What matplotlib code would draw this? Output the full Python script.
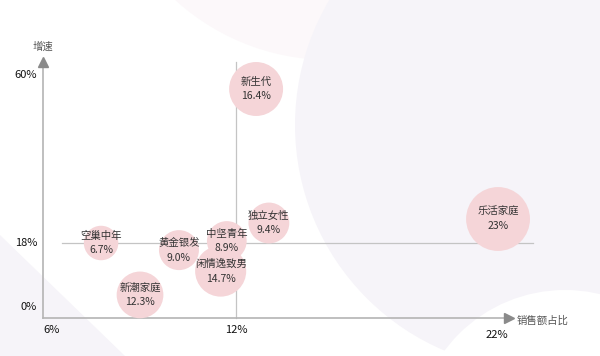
import numpy as np
import matplotlib
matplotlib.use("Agg")
import matplotlib.pyplot as plt
from matplotlib.patches import Circle, Polygon

plt.rcParams['font.family'] = ['Noto Sans CJK SC', 'DejaVu Sans']

# bubble data: name, sales share (%), growth (%), bubble value (%)
names = ['新生代', '空巢中年', '黄金银发', '中坚青年', '闲情逸致男', '独立女性', '新潮家庭', '乐活家庭']
share = [12.77, 7.6, 10.14, 11.7, 11.5, 13.26, 8.87, 22.04]
growth = [56.5, 18.0, 16.0, 18.5, 10.1, 23.0, 3.4, 24.0]
value = [16.4, 6.7, 9.0, 8.9, 14.7, 9.4, 12.3, 23.0]
value_labels = ['16.4%', '6.7%', '9.0%', '8.9%', '14.7%', '9.4%', '12.3%', '23%']

x_ticks = [6, 12, 22]
x_tick_labels = ['6%', '12%', '22%']
y_ticks = [0, 18, 60]
y_tick_labels = ['0%', '18%', '60%']

# the original axis is not linear: piecewise scales through the tick positions
xk_data = [0, 6, 12, 22, 40]
xk_px = [52 - 6 * 30.67, 52, 236, 497, 497 + 18 * 26.1]
yk_data = [-20, 0, 18, 60, 100]
yk_px = [49 - 20 * 3.556, 49, 113, 281, 281 + 40 * 4.0]


def fx(v):
    return np.interp(v, xk_data, xk_px)


def ix(p):
    return np.interp(p, xk_px, xk_data)


def fy(v):
    return np.interp(v, yk_data, yk_px)


def iy(p):
    return np.interp(p, yk_px, yk_data)


fig = plt.figure(figsize=(6, 3.56), dpi=100)

# decorative background
bg = fig.add_axes([0, 0, 1, 1])
bg.set_xlim(0, 600)
bg.set_ylim(356, 0)
bg.axis('off')
bg.add_patch(Circle((330, -170), 230, color='#fcf8fa', lw=0))
bg.add_patch(Circle((540, 125), 245, color='#f6f4f9', lw=0))
bg.add_patch(Circle((565, 440), 150, color='white', lw=0))
bg.add_patch(Polygon([(0, 235), (125, 356), (0, 356)], color='#f6f4f9', lw=0))

ax = fig.add_axes([0, 0, 1, 1])
ax.patch.set_alpha(0)
ax.set_xscale('function', functions=(fx, ix))
ax.set_yscale('function', functions=(fy, iy))
ax.set_xlim(ix(0), ix(600))
ax.set_ylim(iy(0), iy(356))
ax.axis('off')

line_c = '#b4b4b4'
x0, x1 = ix(42.5), ix(509)
y0, y1 = iy(38.5), iy(294)

# divider lines
ax.plot([ix(62), ix(533)], [18, 18], color='#c4c4c4', lw=0.9, zorder=1)
ax.plot([12, 12], [y0, y1], color='#c4c4c4', lw=0.9, zorder=1)

# axes with arrow heads
ax.plot([x0, x1], [y0, y0], color=line_c, lw=1.2, zorder=1)
ax.plot([x0, x0], [y0, y1], color=line_c, lw=1.2, zorder=1)
ax.plot([x1], [y0], marker='>', color='#8a8a8a', ms=7, zorder=2)
ax.plot([x0], [y1], marker='^', color='#8a8a8a', ms=7, zorder=2)
ax.text(ix(517), iy(35), '销售额占比', fontsize=7.5, color='#555555', ha='left', va='center')
ax.text(x0, iy(309), '增速', fontsize=7.5, color='#555555', ha='center', va='center')

# tick labels
for t, lab in zip(x_ticks, x_tick_labels):
    dy = 21 if t == 22 else 26
    ax.text(t, iy(dy), lab, fontsize=8, color='#111111', ha='center', va='center')
for t, lab in zip(y_ticks, y_tick_labels):
    ax.text(ix(37), t, lab, fontsize=8, color='#111111', ha='right', va='center')

# bubbles
ax.scatter(share, growth, s=[92 * v for v in value], color='#f5d5d8', lw=0, zorder=3)
for n, sx, gy, vl in zip(names, share, growth, value_labels):
    ax.text(sx, gy, n + '\n' + vl, fontsize=7.5, color='#333333', ha='center', va='center',
            linespacing=1.6, zorder=4)

fig.savefig('out.png', dpi=100)
